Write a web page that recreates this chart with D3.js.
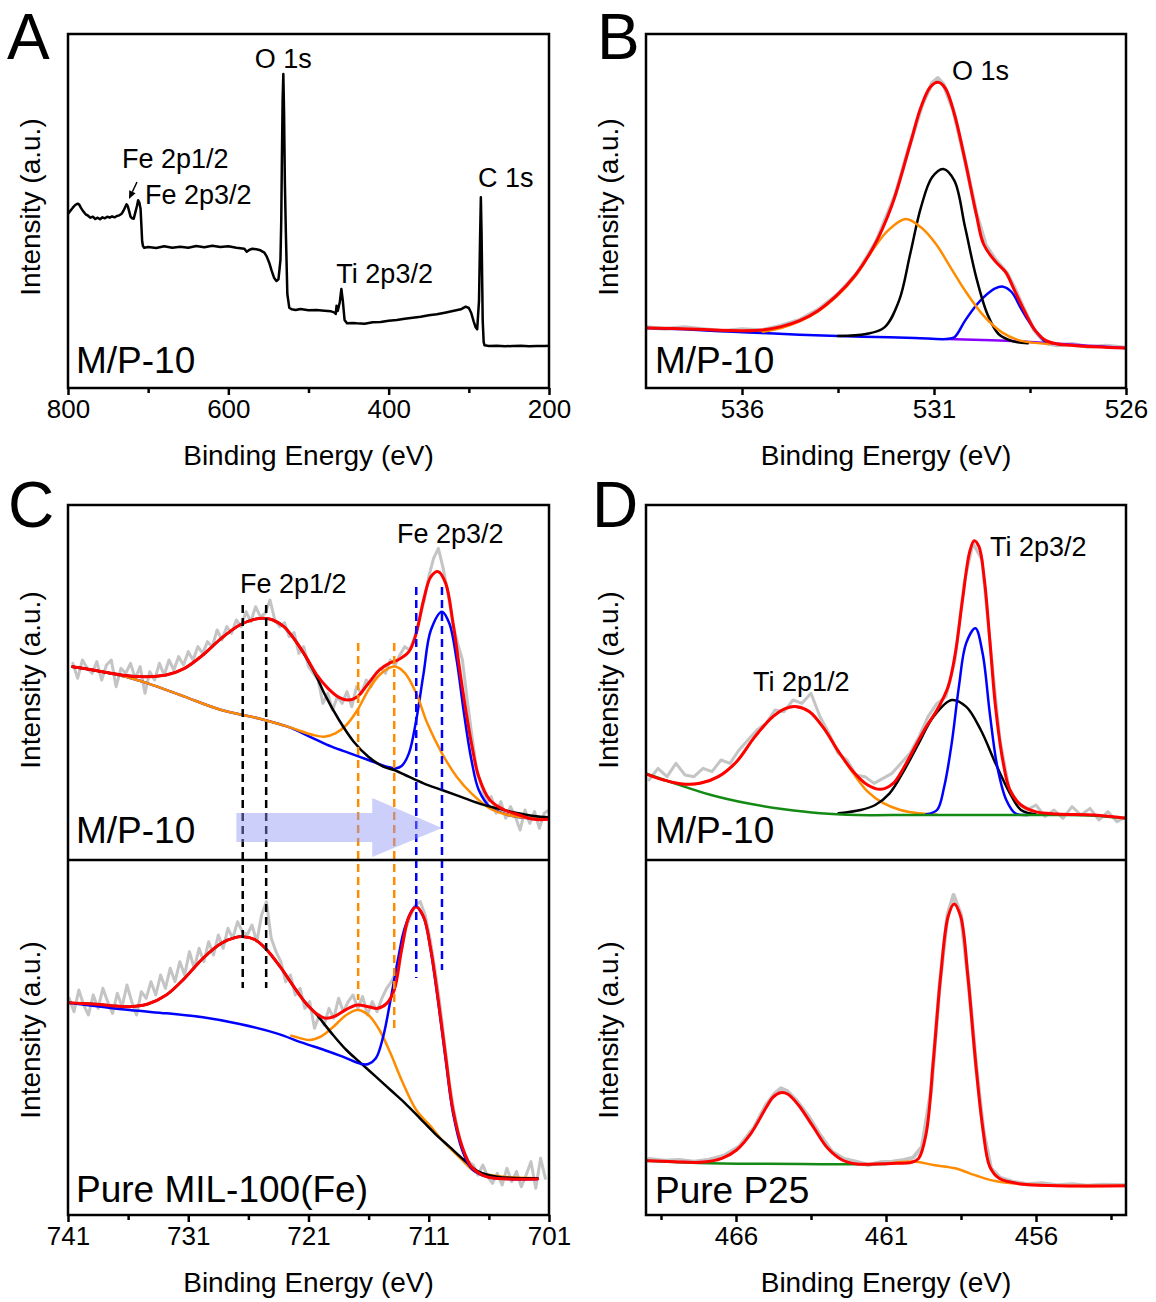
<!DOCTYPE html>
<html>
<head>
<meta charset="utf-8">
<script src="https://cdn.jsdelivr.net/npm/d3@7"></script>
<style>
  body { margin: 0; background: #fff; }
</style>
</head>
<body>
<svg id="fig" width="1156" height="1302"></svg>
<script>
// ---------------- Data: [binding energy (eV), intensity (a.u.)] ----------------

// A: survey spectrum of M/P-10
const surveyMP10 = [
  [800,522],[797,532],[794,541],[791,549],[788,553],[786,550],[784,541],[781,530],[778,521],[775,517],
  [772,511],[769,514],[766,507],[763,511],[760,506],[757,512],[754,509],[751,514],[748,511],[745,515],
  [742,512],[739,516],[736,518],[733,523],[731,531],[729,541],[727,551],[725.5,546],[724,533],[722,514],
  [720,509],[718,508],[716,527],[714,546],[712.5,563],[711,556],[709.5,538],[708.5,490],[707.5,440],[706.5,426],
  [705,421],[700,423],[690,420],[680,425],[670,421],[660,424],[650,421],[640,426],[630,422],[620,427],
  [610,423],[600,425],[590,421],[580,418],[577,409],[574,414],[570,418],[565,416],[560,413],[555,406],
  [552,394],[549,376],[546,352],[543,331],[540,321],[537.5,326],[536,360],[535,384],[534,500],[533.3,662],
  [532.3,862],[531.4,942],[530.5,830],[529.5,620],[528.2,462],[526.4,282],[524,241],[521,236],[516,234],[510,237],
  [500,233],[490,234],[480,232],[472,230],[468,227],[466,222],[465,247],[463.5,231],[461,257],[459,297],
  [457.2,262],[455,204],[452,194],[445,195],[440,194],[430,193],[420,197],[410,198],[400,202],[390,204],
  [380,208],[370,211],[360,214],[350,218],[340,221],[330,226],[320,231],[310,236],[304,244],[300,240],
  [297,225],[294,200],[291.5,182],[289.6,176],[287.3,262],[285.9,462],[285,572],[284.1,462],[282.7,202],[281.5,138],
  [280.4,128],[275,126],[265,127],[255,125],[245,126],[235,127],[225,125],[215,126],[205,126],[200,127]
];

// B: O 1s of M/P-10
const o1sRaw = [
  [538.5,182],[538.0,178],[537.5,182],[537.0,176],[536.5,171],[536.0,176],[535.5,173],[535.0,186],[534.5,204],[534.0,236],
  [533.5,282],[533.0,345],[532.5,440],[532.0,582],[531.6,742],[531.3,852],[531.05,915],[530.9,930],[530.75,910],[530.5,835],
  [530.2,688],[529.9,525],[529.65,428],[529.4,385],[529.1,345],[528.9,300],[528.65,235],[528.4,175],[528.1,135],[527.8,128],
  [527.4,132],[527.0,124],[526.5,127],[526.0,121]
];
const o1sFit = [
  [538.53,180],[537.38,177],[536.03,172],[535.46,174],[534.98,184],[534.50,202],[534.02,232],[533.54,277],[533.06,337],[532.58,422],
  [532.10,547],[531.62,732],[531.34,842],[531.10,902],[530.90,917],[530.71,900],[530.47,822],[530.19,682],[529.90,522],[529.71,432],
  [529.42,382],[529.13,347],[528.94,302],[528.65,232],[528.36,172],[528.08,142],[527.79,132],[527.31,127],[526.03,120]
];
const o1sComp529 = [
  [538.53,180],[537.5,176],[536.5,170],[535.5,165],[534.5,160],[533.5,156],[532.5,153],[531.5,150],[530.66,147],[530.47,152],
  [530.19,202],[529.90,248],[529.71,272],[529.42,298],[529.20,304],[528.98,288],[528.75,242],[528.56,205],[528.36,172],[528.08,137],[527.98,134]
];
const o1sBaselineTail = [[530.66,147],[529.5,143],[528.5,138],[527.98,134],[527.0,127],[526.03,120]];
const o1sComp531 = [
  [533.5,156],[532.77,162],[532.29,182],[531.91,262],[531.62,402],[531.34,542],[531.05,632],[530.76,657],[530.47,622],[530.19,482],
  [529.90,332],[529.61,222],[529.32,162],[528.94,140],[528.56,134]
];
const o1sComp532 = [
  [535.46,169],[534.98,180],[534.50,200],[534.02,230],[533.54,274],[533.06,334],[532.58,417],[532.20,472],[531.74,507],[531.34,482],
  [530.95,432],[530.57,362],[530.19,292],[529.71,217],[529.23,167],[528.75,142],[527.98,132]
];

// C (upper): Fe 2p of M/P-10
const feMPRaw = [
  [740.6,590],[740.2,545],[739.8,600],[739.4,575],[739.0,560],[738.6,595],[738.2,540],[737.8,585],[737.4,600],[737.0,520],
  [736.6,575],[736.2,560],[735.8,590],[735.4,545],[735.0,580],[734.6,500],[734.2,565],[733.8,540],[733.4,590],[733.0,555],
  [732.6,600],[732.2,570],[731.8,610],[731.4,585],[731.0,625],[730.6,600],[730.2,640],[729.8,620],[729.4,655],[729.0,640],
  [728.6,690],[728.2,660],[727.8,700],[727.4,680],[727.0,720],[726.6,700],[726.2,745],[725.8,715],[725.4,760],[725.0,730],
  [724.6,740],[724.2,780],[723.8,720],[723.4,700],[723.0,712],[722.6,670],[722.2,682],[721.8,620],[721.4,640],[721.0,580],
  [720.6,560],[720.2,540],[719.8,470],[719.4,500],[719.0,450],[718.6,490],[718.2,470],[717.8,505],[717.4,460],[717.0,520],
  [716.6,500],[716.2,540],[715.8,520],[715.4,560],[715.0,575],[714.6,560],[714.2,600],[713.8,585],[713.4,615],[713.0,640],
  [712.6,630],[712.2,665],[711.8,720],[711.4,775],[711.0,850],[710.6,905],[710.2,935],[709.8,875],[709.4,800],[709.0,710],
  [708.6,650],[708.2,600],[707.8,480],[707.4,370],[707.0,265],[706.6,220],[706.2,170],[705.8,190],[705.4,140],[705.0,175],
  [704.6,125],[704.2,160],[703.8,130],[703.4,90],[703.0,150],[702.6,110],[702.2,145],[701.8,95],[701.4,140],[701.0,150]
];
const feMPFit = [
  [740.63,580],[738.95,570],[737.42,560],[735.89,552],[734.36,550],[732.83,555],[731.31,575],[729.78,615],[728.25,665],[726.72,705],
  [725.50,722],[724.73,725],[723.97,720],[723.05,700],[722.13,660],[721.21,610],[720.30,555],[719.38,515],[718.46,488],[717.70,480],
  [716.93,490],[716.02,530],[715.10,570],[714.18,592],[713.57,600],[712.65,625],[712.04,680],[711.43,780],[710.82,850],[710.21,865],
  [709.59,830],[708.98,710],[708.22,520],[707.45,350],[706.84,250],[705.92,180],[704.70,150],[703.48,135],[702.25,122],[701.03,122]
];
const feMP2p12 = [
  [740.63,580],[738.95,570],[737.42,560],[735.89,552],[734.36,550],[732.83,555],[731.31,575],[729.78,615],[728.25,665],[726.72,705],
  [725.50,722],[724.73,725],[723.97,720],[723.05,700],[722.13,660],[721.21,608],[720.30,548],[719.69,500],[718.46,420],[717.24,355],
  [716.02,310],[714.79,280],[713.87,270],[712.96,255],[711.43,230],[709.90,210],[708.37,190],[706.84,170],[705.31,155],[703.78,142],
  [702.25,132],[701.03,128]
];
const feMPSat = [
  [740.63,580],[738.95,570],[736.20,550],[734.36,530],[731.31,490],[728.25,450],[725.19,425],[722.74,400],[720.60,375],[719.69,370],
  [718.77,380],[717.85,405],[716.93,450],[716.02,510],[715.10,555],[714.18,578],[713.72,580],[712.96,560],[712.04,500],[711.12,410],
  [709.90,320],[708.68,250],[707.45,200],[705.92,155],[704.39,135],[702.56,125],[701.03,122]
];
const feMP2p32 = [
  [740.63,580],[738.95,570],[736.20,550],[734.36,530],[731.31,490],[728.25,450],[725.19,425],[722.74,400],[720.60,365],[719.07,340],
  [717.54,320],[716.02,300],[714.49,280],[713.72,275],[713.26,282],[712.65,320],[712.04,420],[711.43,560],[710.82,690],[709.90,745],
  [709.29,710],[708.68,600],[708.07,440],[707.45,300],[706.84,210],[705.92,160],[704.39,135],[702.56,125],[701.03,125]
];

// C (lower): Fe 2p of pure MIL-100(Fe)
const feMILRaw = [
  [740.9,650],[740.5,610],[740.1,675],[739.7,630],[739.3,600],[738.9,660],[738.5,620],[738.1,680],[737.7,640],[737.3,605],
  [736.9,665],[736.5,625],[736.1,690],[735.7,640],[735.3,600],[734.9,670],[734.5,650],[734.1,700],[733.7,660],[733.3,720],
  [732.9,680],[732.5,740],[732.1,700],[731.7,760],[731.3,720],[730.9,790],[730.5,740],[730.1,800],[729.7,760],[729.3,820],
  [728.9,780],[728.5,840],[728.1,800],[727.7,860],[727.3,830],[726.9,880],[726.5,850],[726.1,840],[725.7,870],[725.3,820],
  [724.9,900],[724.5,940],[724.1,830],[723.7,790],[723.3,760],[722.9,700],[722.5,720],[722.1,660],[721.7,680],[721.3,620],
  [720.9,640],[720.5,560],[720.1,600],[719.7,570],[719.3,620],[718.9,590],[718.5,650],[718.1,610],[717.7,640],[717.3,660],
  [716.9,620],[716.5,655],[716.1,600],[715.7,640],[715.3,610],[714.9,650],[714.5,680],[714.1,700],[713.7,730],[713.3,790],
  [712.9,860],[712.5,900],[712.1,930],[711.7,940],[711.3,900],[710.9,830],[710.5,740],[710.1,640],[709.7,520],[709.3,400],
  [708.9,310],[708.5,240],[708.1,190],[707.7,160],[707.3,150],[706.9,120],[706.5,150],[706.1,115],[705.7,95],[705.3,125],
  [704.9,90],[704.5,140],[704.1,100],[703.7,130],[703.3,85],[702.9,120],[702.5,160],[702.1,80],[701.7,170],[701.3,110]
];
const feMILFit = [
  [741.0,637],[738.95,633],[737.42,628],[735.89,625],[734.36,633],[732.83,660],[731.31,710],[729.78,770],[728.25,815],[727.03,833],
  [726.41,835],[725.50,827],[724.58,800],[723.36,745],[722.13,680],[721.21,635],[720.30,603],[719.53,590],[718.77,597],[717.85,617],
  [716.93,630],[716.02,625],[715.25,620],[714.49,635],[713.87,675],[713.26,795],[712.65,895],[712.04,925],[711.43,895],[710.82,795],
  [710.21,645],[709.59,475],[708.98,315],[708.22,205],[707.45,145],[706.23,115],[704.40,108],[701.95,108]
];
const feMIL2p12 = [
  [741.0,637],[738.95,633],[737.42,628],[735.89,625],[734.36,633],[732.83,660],[731.31,710],[729.78,770],[728.25,815],[727.03,833],
  [726.41,835],[725.50,827],[724.58,800],[723.36,745],[722.13,680],[721.21,635],[720.30,600],[719.07,545],[717.85,495],[716.63,455],
  [715.40,415],[714.18,375],[712.96,335],[711.73,290],[710.51,245],[709.29,205],[708.07,165],[706.84,130],[705.31,115],[701.95,110]
];
const feMILSat = [
  [722.44,538],[722.13,535],[720.91,525],[719.99,535],[719.07,560],[717.85,600],[716.93,615],[716.02,600],[715.10,555],[714.18,485],
  [713.26,405],[712.04,315],[710.82,265],[709.90,225],[708.37,170],[707.15,130],[705.92,120],[704.39,113],[701.95,110]
];
const feMIL2p32 = [
  [741.0,637],[735.89,615],[732.83,605],[729.78,593],[726.72,573],[723.66,545],[721.52,517],[719.69,495],[718.16,475],[716.63,453],
  [716.02,453],[715.40,470],[714.79,535],[714.18,645],[713.57,765],[712.96,865],[712.10,925],[711.43,893],[710.82,790],[710.21,637],
  [709.59,465],[708.98,305],[708.22,195],[707.45,140],[706.23,115],[704.39,108],[701.95,108]
];
// Peak positions marked with dashed guides (M/P-10 vs. MIL-100(Fe))
const feGuide2p12 = [726.47, 724.52];
const feGuideSat = [716.87, 713.87];
const feGuide2p32 = [712.04, 709.90];

// D (upper): Ti 2p of M/P-10
const tiMPRaw = [
  [468.9,240],[468.6,275],[468.3,250],[468.0,290],[467.7,255],[467.4,250],[467.1,275],[466.8,265],[466.5,300],[466.2,290],
  [465.9,330],[465.6,360],[465.3,390],[465.0,410],[464.7,450],[464.4,445],[464.1,480],[463.8,470],[463.5,500],[463.2,430],
  [462.9,380],[462.6,320],[462.3,300],[462.0,255],[461.7,250],[461.4,230],[461.1,245],[460.8,260],[460.5,290],[460.2,320],
  [459.9,370],[459.6,430],[459.3,470],[459.0,490],[458.7,600],[458.4,830],[458.1,950],[457.8,900],[457.5,620],[457.2,360],
  [456.9,215],[456.6,170],[456.3,150],[456.0,165],[455.7,130],[455.4,150],[455.1,125],[454.8,160],[454.5,135],[454.2,155],
  [453.9,120],[453.6,145],[453.3,115],[453.0,130]
];
const tiMPFit = [
  [468.96,257],[468.41,240],[467.80,228],[467.20,230],[466.59,250],[465.98,295],[465.37,370],[464.77,430],[464.34,455],[463.98,460],
  [463.55,445],[463.07,395],[462.58,325],[462.09,265],[461.61,225],[461.18,212],[460.76,230],[460.39,280],[460.03,340],[459.66,400],
  [459.30,450],[458.93,520],[458.69,620],[458.45,780],[458.21,925],[458.06,958],[457.90,940],[457.72,840],[457.54,660],[457.35,460],
  [457.11,300],[456.87,210],[456.50,165],[456.02,145],[455.29,138],[454.07,135],[452.98,125]
];
const tiMPBackground = [
  [468.96,258],[468.05,230],[466.83,195],[465.62,170],[464.40,152],[463.19,140],[461.97,135],[460.15,135],[457.72,135],[455.29,135],
  [454.07,133],[452.98,125]
];
const tiMP2p12 = [
  [468.96,257],[468.41,240],[467.80,228],[467.20,230],[466.59,250],[465.98,295],[465.37,370],[464.77,430],[464.34,455],[463.98,460],
  [463.55,445],[463.07,395],[462.58,325],[462.09,260],[461.61,205],[461.12,172],[460.52,150],[459.91,140],[459.30,136]
];
const tiMPComp459 = [
  [462.58,140],[461.85,150],[461.36,165],[460.88,200],[460.39,270],[459.91,350],[459.42,430],[458.81,480],[458.33,460],[457.84,390],
  [457.35,290],[456.87,200],[456.50,150],[456.02,137]
];
const tiMPComp458 = [
  [459.66,137],[459.30,150],[459.06,220],[458.81,350],[458.57,520],[458.33,650],[458.02,695],[457.78,620],[457.54,440],[457.29,280],
  [456.99,180],[456.69,140],[456.26,135]
];

// D (lower): Ti 2p of pure P25
const tiP25Raw = [
  [468.9,168],[468.4,163],[467.9,165],[467.4,160],[466.9,166],[466.4,178],[465.9,205],[465.4,262],[465.0,330],[464.7,365],
  [464.5,380],[464.3,372],[464.0,345],[463.6,298],[463.2,240],[462.8,190],[462.4,168],[462.0,160],[461.6,150],[461.2,158],
  [460.8,160],[460.4,165],[460.1,172],[459.8,205],[459.5,370],[459.2,700],[458.95,900],[458.75,960],[458.5,900],[458.25,700],
  [458.0,450],[457.75,250],[457.5,140],[457.2,112],[456.8,100],[456.3,92],[455.8,95],[455.3,89],[454.8,92],[454.3,88],
  [453.8,91],[453.0,89]
];
const tiP25Fit = [
  [468.96,163],[468.05,160],[467.20,158],[466.47,170],[465.98,195],[465.50,245],[465.01,320],[464.77,353],[464.52,367],[464.28,363],
  [463.92,330],[463.43,265],[462.94,200],[462.46,165],[461.97,153],[461.36,153],[460.64,155],[460.15,158],[459.91,170],[459.66,245],
  [459.42,465],[459.18,715],[458.93,895],[458.73,933],[458.51,895],[458.27,715],[458.02,465],[457.78,265],[457.54,145],[457.23,110],
  [456.50,93],[455.29,88],[452.98,88]
];
const tiP25Background = [[468.96,163],[467.44,157],[465.62,154],[463.80,153],[461.97,152],[461.00,153]];
const tiP25Background2 = [
  [461.00,153],[460.03,160],[459.42,150],[458.69,140],[458.21,125],[457.72,110],[457.23,100],[456.50,93],[455.29,88],[452.98,88]
];

// Axis ticks
const ticksA = [800, 600, 400, 200], minorA = [700, 500, 300];
const ticksB = [536, 531, 526], minorB = [533.5, 528.5];
const ticksC = [741, 731, 721, 711, 701], minorC = [736, 726, 716, 706];
const ticksD = [466, 461, 456], minorD = [468.5, 463.5, 458.5, 453.5];

// ---------------- Drawing ----------------
const svg = d3.select("#fig");
const FONT = '"Liberation Sans", Arial, Helvetica, sans-serif';
const COL = { red: "#ff0000", blue: "#0000ff", orange: "#ff8c00", black: "#000000",
              green: "#138a13", purple: "#8a00ff", gray: "#c4c4c4" };

const colL = [68, 549], colR = [646, 1126];
const rowTop = [34, 388];
const rowBot = [505, 860, 1215];

const xA = d3.scaleLinear().domain([800, 200]).range(colL);
const xB = d3.scaleLinear().domain([538.5, 526]).range(colR);
const xC = d3.scaleLinear().domain([741, 701]).range(colL);
const xD = d3.scaleLinear().domain([469, 453]).range(colR);
const yTop = d3.scaleLinear().domain([0, 1062]).range([rowTop[1], rowTop[0]]);
const yUpper = d3.scaleLinear().domain([0, 1065]).range([rowBot[1], rowBot[0]]);
const yLower = d3.scaleLinear().domain([0, 1065]).range([rowBot[2], rowBot[1]]);

const defs = svg.append("defs");
function plotArea(id, x0, x1, y0, y1) {
  defs.append("clipPath").attr("id", id).append("rect")
    .attr("x", x0).attr("y", y0).attr("width", x1 - x0).attr("height", y1 - y0);
  return svg.append("g").attr("clip-path", `url(#${id})`);
}

function trace(g, data, x, y, color, width, smooth) {
  g.append("path").datum(data)
    .attr("fill", "none").attr("stroke", color).attr("stroke-width", width)
    .attr("stroke-linejoin", "round").attr("stroke-linecap", "round")
    .attr("d", d3.line().x(d => x(d[0])).y(d => y(d[1]))
      .curve(smooth ? d3.curveCatmullRom.alpha(0.5) : d3.curveLinear));
}

function text(x, y, s, size, anchor) {
  return svg.append("text").attr("x", x).attr("y", y)
    .attr("font-family", FONT).attr("font-size", size)
    .attr("text-anchor", anchor || "start").attr("fill", "#000").text(s);
}

function yTitle(x, yMid) {
  svg.append("text").attr("transform", `translate(${x},${yMid}) rotate(-90)`)
    .attr("text-anchor", "middle").attr("font-family", FONT).attr("font-size", 28)
    .text("Intensity (a.u.)");
}

function xAxis(x, yPos, major, minor) {
  const gMaj = svg.append("g").attr("transform", `translate(0,${yPos})`)
    .call(d3.axisBottom(x).tickValues(major).tickSize(7).tickPadding(5).tickFormat(d3.format("d")));
  const gMin = svg.append("g").attr("transform", `translate(0,${yPos})`)
    .call(d3.axisBottom(x).tickValues(minor).tickSize(5).tickFormat(""));
  [gMaj, gMin].forEach(g => {
    g.select(".domain").remove();
    g.selectAll("line").attr("stroke", "#000").attr("stroke-width", 2.5);
  });
  gMaj.selectAll("text").attr("font-family", FONT).attr("font-size", 26).attr("fill", "#000");
  const mid = (x.range()[0] + x.range()[1]) / 2;
  text(mid, yPos + 77, "Binding Energy (eV)", 28, "middle");
}

function frame(xr, y0, y1, dividers) {
  svg.append("rect").attr("x", xr[0]).attr("y", y0).attr("width", xr[1] - xr[0]).attr("height", y1 - y0)
    .attr("fill", "none").attr("stroke", "#000").attr("stroke-width", 2.5);
  (dividers || []).forEach(yy => svg.append("line")
    .attr("x1", xr[0]).attr("x2", xr[1]).attr("y1", yy).attr("y2", yy)
    .attr("stroke", "#000").attr("stroke-width", 2.5));
}

// ---- Panel A: survey ----
{
  const g = plotArea("clipA", colL[0], colL[1], rowTop[0], rowTop[1]);
  trace(g, surveyMP10, xA, yTop, COL.black, 2.5, false);
  frame(colL, rowTop[0], rowTop[1]);
  xAxis(xA, rowTop[1], ticksA, minorA);
  yTitle(40, 207);
  text(7, 59, "A", 64);
  text(76, 373, "M/P-10", 37);
  text(xA(531.4), 68, "O 1s", 27, "middle");
  text(122, 168, "Fe 2p1/2", 27);
  text(145, 204, "Fe 2p3/2", 27);
  text(xA(459) - 5, 283, "Ti 2p3/2", 27);
  text(478, 187, "C 1s", 27);
  // pointer to the Fe 2p1/2 peak
  const p0 = [137, 182], p1 = [129, 199];
  const dx = p1[0] - p0[0], dy = p1[1] - p0[1], len = Math.hypot(dx, dy);
  const ux = dx / len, uy = dy / len;
  const base = [p1[0] - ux * 8, p1[1] - uy * 8];
  svg.append("line").attr("x1", p0[0]).attr("y1", p0[1]).attr("x2", base[0]).attr("y2", base[1])
    .attr("stroke", "#000").attr("stroke-width", 1.5);
  svg.append("path").attr("fill", "#000")
    .attr("d", `M${p1[0]},${p1[1]}L${base[0] - uy * 3.5},${base[1] + ux * 3.5}L${base[0] + uy * 3.5},${base[1] - ux * 3.5}Z`);
}

// ---- Panel B: O 1s ----
{
  const g = plotArea("clipB", colR[0], colR[1], rowTop[0], rowTop[1]);
  trace(g, o1sRaw, xB, yTop, COL.gray, 4, false);
  trace(g, o1sBaselineTail, xB, yTop, COL.purple, 2.5, true);
  trace(g, o1sComp529, xB, yTop, COL.blue, 2.5, true);
  trace(g, o1sComp531, xB, yTop, COL.black, 2.5, true);
  trace(g, o1sComp532, xB, yTop, COL.orange, 2.5, true);
  trace(g, o1sFit, xB, yTop, COL.red, 3, true);
  frame(colR, rowTop[0], rowTop[1]);
  xAxis(xB, rowTop[1], ticksB, minorB);
  yTitle(618, 207);
  text(597, 59, "B", 64);
  text(655, 373, "M/P-10", 37);
  text(952, 80, "O 1s", 27);
}

// ---- Panel C: Fe 2p ----
{
  const gU = plotArea("clipC1", colL[0], colL[1], rowBot[0], rowBot[1]);
  const gL = plotArea("clipC2", colL[0], colL[1], rowBot[1], rowBot[2]);
  trace(gU, feMPRaw, xC, yUpper, COL.gray, 3, false);
  trace(gL, feMILRaw, xC, yLower, COL.gray, 3, false);

  // dashed guides spanning both spectra
  const guides = [
    { be: feGuide2p12, color: COL.black, y0: [605, 605], y1: [988, 988] },
    { be: feGuideSat, color: COL.orange, y0: [643, 643], y1: [1000, 1028] },
    { be: feGuide2p32, color: COL.blue, y0: [587, 587], y1: [978, 970] }
  ];
  guides.forEach(gd => gd.be.forEach((be, i) => {
    svg.append("line").attr("x1", xC(be)).attr("x2", xC(be))
      .attr("y1", gd.y0[i]).attr("y2", gd.y1[i])
      .attr("stroke", gd.color).attr("stroke-width", 2.5).attr("stroke-dasharray", "8,5");
  }));

  trace(gU, feMP2p32, xC, yUpper, COL.blue, 2.5, true);
  trace(gU, feMPSat, xC, yUpper, COL.orange, 2.5, true);
  trace(gU, feMP2p12, xC, yUpper, COL.black, 2.5, true);
  trace(gU, feMPFit, xC, yUpper, COL.red, 3, true);

  trace(gL, feMILSat, xC, yLower, COL.orange, 2.5, true);
  trace(gL, feMIL2p12, xC, yLower, COL.black, 2.5, true);
  trace(gL, feMIL2p32, xC, yLower, COL.blue, 2.5, true);
  trace(gL, feMILFit, xC, yLower, COL.red, 3, true);

  // shift arrow (MIL-100(Fe) -> M/P-10)
  const xa0 = xC(727.0), xa1 = xC(715.7), xa2 = xC(709.9);
  svg.append("path")
    .attr("d", `M${xa0},813L${xa1},813L${xa1},798L${xa2},828L${xa1},857L${xa1},842L${xa0},842Z`)
    .attr("fill", "#8f94f5").attr("fill-opacity", 0.45);

  frame(colL, rowBot[0], rowBot[2], [rowBot[1]]);
  xAxis(xC, rowBot[2], ticksC, minorC);
  yTitle(40, 680);
  yTitle(40, 1030);
  text(8, 527, "C", 64);
  text(76, 843, "M/P-10", 37);
  text(76, 1202, "Pure MIL-100(Fe)", 37);
  text(240, 593, "Fe 2p1/2", 27);
  text(397, 543, "Fe 2p3/2", 27);
}

// ---- Panel D: Ti 2p ----
{
  const gU = plotArea("clipD1", colR[0], colR[1], rowBot[0], rowBot[1]);
  const gL = plotArea("clipD2", colR[0], colR[1], rowBot[1], rowBot[2]);
  trace(gU, tiMPRaw, xD, yUpper, COL.gray, 3, false);
  trace(gU, tiMP2p12, xD, yUpper, COL.orange, 2.5, true);
  trace(gU, tiMPComp459, xD, yUpper, COL.black, 2.5, true);
  trace(gU, tiMPComp458, xD, yUpper, COL.blue, 2.5, true);
  trace(gU, tiMPBackground, xD, yUpper, COL.green, 2.5, true);
  trace(gU, tiMPFit, xD, yUpper, COL.red, 3, true);

  trace(gL, tiP25Raw, xD, yLower, COL.gray, 4, false);
  trace(gL, tiP25Background, xD, yLower, COL.green, 2.5, true);
  trace(gL, tiP25Background2, xD, yLower, COL.orange, 2.5, true);
  trace(gL, tiP25Fit, xD, yLower, COL.red, 3, true);

  frame(colR, rowBot[0], rowBot[2], [rowBot[1]]);
  xAxis(xD, rowBot[2], ticksD, minorD);
  yTitle(618, 680);
  yTitle(618, 1030);
  text(592, 527, "D", 64);
  text(655, 843, "M/P-10", 37);
  text(655, 1203, "Pure P25", 37);
  text(753, 691, "Ti 2p1/2", 27);
  text(990, 556, "Ti 2p3/2", 27);
}
</script>
</body>
</html>
